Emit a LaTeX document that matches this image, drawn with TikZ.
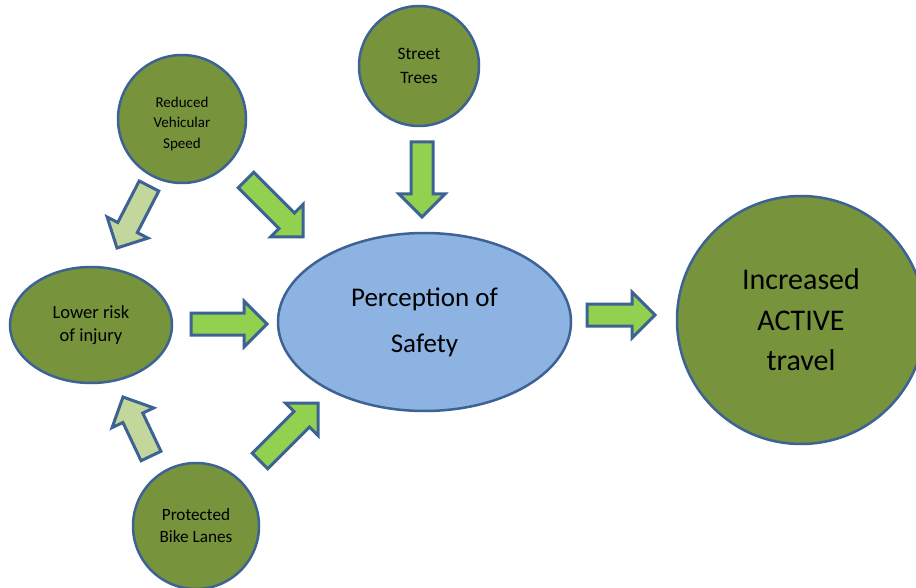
\documentclass[tikz,border=0pt]{standalone}
\usepackage{fontspec}
\setmainfont{Carlito}
\usetikzlibrary{shapes.geometric,calc}
\definecolor{olivefill}{HTML}{77933C}
\definecolor{edgeblue}{HTML}{3D6394}
\definecolor{skyfill}{HTML}{8DB3E2}
\definecolor{brightgreen}{HTML}{92D050}
\definecolor{palegreen}{HTML}{C3D69B}
\tikzset{
  bubble/.style={circle,draw=edgeblue,line width=2.5pt,fill=olivefill,inner sep=0pt,align=center,text=black},
  oval/.style={ellipse,draw=edgeblue,line width=2.5pt,inner sep=0pt,align=center,text=black},
  barrow/.style={draw=edgeblue,line width=3pt,fill=brightgreen,line join=miter},
  palearrow/.style={barrow,fill=palegreen}
}
\newcommand\blockarrow[4][]{%
  \coordinate (#4h) at ($(#3)!23pt!(#2)$);
  \draw[barrow,#1] ($(#2)!11pt!90:(#3)$) -- ($(#4h)!11pt!90:(#3)$) -- ($(#4h)!23pt!90:(#3)$) -- (#3)
     -- ($(#4h)!23pt!-90:(#3)$) -- ($(#4h)!11pt!-90:(#3)$) -- ($(#2)!11pt!-90:(#3)$) -- cycle;}
\begin{document}
\begin{tikzpicture}[x=1pt,y=-1pt]
\useasboundingbox (0,0) rectangle (916,588);
\fill[white] (0,0) rectangle (916,588);
% nodes
\node[bubble,minimum size=120pt,font=\fontsize{17.4}{24}\selectfont] (trees) at (419,66) {Street\\Trees};
\node[bubble,minimum size=128pt] (speed) at (182,119) {};
\node[align=center,inner sep=0pt,font=\fontsize{15}{20.5}\selectfont] (speedtxt) at (182,124) {Reduced\\Vehicular\\Speed};
\node[oval,fill=olivefill,minimum width=162pt,minimum height=116pt,font=\fontsize{18.5}{23.5}\selectfont] (risk) at (91,325) {Lower risk\\of injury};
\node[oval,fill=skyfill,minimum width=293pt,minimum height=178pt,font=\fontsize{27}{46}\selectfont] (safety) at (424.5,322) {Perception of\\Safety};
\node[bubble,minimum size=248pt,font=\fontsize{30}{40.5}\selectfont] (active) at (801,320) {Increased\\ACTIVE\\travel};
\node[bubble,minimum size=126pt,font=\fontsize{17.2}{22}\selectfont] (lanes) at (196,526) {Protected\\Bike Lanes};
% arrow end points
\coordinate (a1t) at (422,142); \coordinate (a1p) at (422,217);
\coordinate (a2t) at (587,315); \coordinate (a2p) at (655,315);
\coordinate (a3t) at (191,324); \coordinate (a3p) at (267,324);
\coordinate (a4t) at (246,180); \coordinate (a4p) at (303,237);
\coordinate (a5t) at (149,186); \coordinate (a5p) at (117,248);
\coordinate (a6t) at (151,456); \coordinate (a6p) at (123,397);
\coordinate (a7t) at (260,461); \coordinate (a7p) at (318,403);
\blockarrow{a1t}{a1p}{a1}
\blockarrow{a2t}{a2p}{a2}
\blockarrow{a3t}{a3p}{a3}
\blockarrow{a4t}{a4p}{a4}
\blockarrow[palearrow]{a5t}{a5p}{a5}
\blockarrow[palearrow]{a6t}{a6p}{a6}
\blockarrow{a7t}{a7p}{a7}
\end{tikzpicture}
\end{document}
